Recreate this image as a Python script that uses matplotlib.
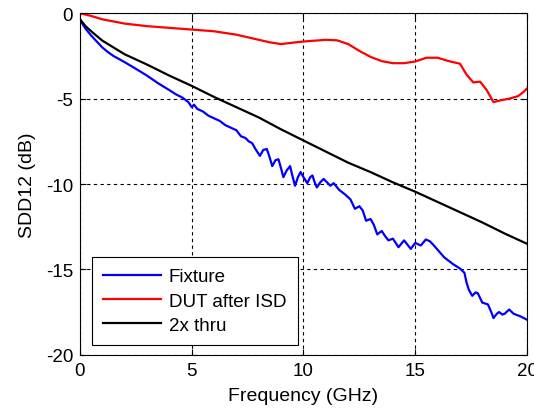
import numpy as np
import matplotlib
matplotlib.use('Agg')
import matplotlib.pyplot as plt
from matplotlib.ticker import MultipleLocator

plt.rcParams['font.family'] = ['Liberation Sans', 'DejaVu Sans']
plt.rcParams['axes.unicode_minus'] = False

# Fixture (blue)
fixtureF = [0, 0.25, 0.5, 0.75, 1.0, 1.25, 1.5, 2.0, 2.5, 2.75, 3.0, 3.5, 4.0, 4.3, 4.6,
            4.85, 5.0, 5.1, 5.25, 5.5, 5.75, 6.0, 6.25, 6.5, 6.75, 7.0, 7.2, 7.4, 7.55,
            7.7, 7.85, 8.05, 8.2, 8.36, 8.5, 8.6, 8.75, 8.88, 9.0, 9.1, 9.25, 9.4, 9.5,
            9.62, 9.75, 9.87, 10.0, 10.17, 10.3, 10.4, 10.5, 10.6, 10.75, 10.9, 11.05,
            11.2, 11.35, 11.6, 11.85, 12.1, 12.3, 12.5, 12.65, 12.8, 13.0, 13.15, 13.3,
            13.5, 13.65, 13.8, 14.0, 14.25, 14.5, 14.65, 14.8, 15.0, 15.25, 15.47, 15.65,
            15.8, 16.0, 16.3, 16.5, 16.7, 17.0, 17.2, 17.3, 17.4, 17.55, 17.7, 17.8, 18.0,
            18.25, 18.4, 18.5, 18.65, 18.75, 18.9, 19.0, 19.2, 19.4, 19.7, 20.0]
fixtureDB = [-0.4, -0.9, -1.3, -1.65, -2.0, -2.27, -2.5, -2.86, -3.25, -3.45, -3.65, -4.1,
             -4.5, -4.75, -4.95, -5.2, -5.5, -5.35, -5.6, -5.75, -6.0, -6.15, -6.3, -6.55,
             -6.7, -6.85, -7.2, -7.3, -7.5, -7.6, -7.95, -8.35, -8.0, -7.95, -8.5, -8.95,
             -8.6, -8.55, -9.1, -9.6, -9.2, -8.95, -9.5, -10.1, -9.6, -9.3, -9.6, -9.95,
             -9.6, -9.5, -9.9, -10.2, -9.9, -9.7, -9.9, -10.1, -9.95, -10.35, -10.6, -10.9,
             -11.45, -11.3, -11.55, -12.15, -12.05, -12.4, -12.95, -12.75, -13.05, -13.3,
             -13.2, -13.7, -13.3, -13.55, -13.8, -13.45, -13.6, -13.25, -13.35, -13.55,
             -13.85, -14.3, -14.5, -14.7, -14.95, -15.2, -15.8, -16.2, -16.55, -16.35, -16.4,
             -16.95, -17.05, -17.5, -17.85, -17.6, -17.5, -17.65, -17.6, -17.35, -17.6,
             -17.75, -17.95]

# DUT after ISD (red)
dutF = [0, 0.5, 1, 2, 3, 4, 5, 6, 7, 8, 8.5, 9, 9.5, 10, 10.5, 11, 11.5, 12, 12.5, 13,
        13.5, 14, 14.5, 15, 15.5, 16, 16.5, 17, 17.3, 17.6, 17.9, 18.2, 18.5, 18.8, 19.2,
        19.6, 19.85, 20]
dutDB = [0, -0.15, -0.35, -0.6, -0.75, -0.85, -0.95, -1.05, -1.25, -1.55, -1.7, -1.8,
         -1.72, -1.65, -1.6, -1.55, -1.58, -1.8, -2.2, -2.55, -2.8, -2.92, -2.92, -2.82,
         -2.6, -2.6, -2.8, -2.95, -3.6, -4.05, -4.0, -4.5, -5.2, -5.1, -5.0, -4.85, -4.6,
         -4.4]

# 2x thru (black)
thruF = [0, 0.25, 0.5, 1, 1.5, 2, 3, 4, 5, 6, 7, 8, 9, 10, 11, 12, 13, 14, 15, 16, 17,
         18, 19, 20]
thruDB = [-0.35, -0.75, -1.05, -1.6, -2.0, -2.4, -3.0, -3.65, -4.25, -4.9, -5.5, -6.1,
          -6.8, -7.45, -8.1, -8.75, -9.3, -9.9, -10.45, -11.05, -11.65, -12.25, -12.9,
          -13.5]

fig = plt.figure(figsize=(5.34, 4.10), dpi=100)
ax = fig.add_axes([0.1498, 0.1324, 0.8371, 0.8326])

ax.plot(fixtureF, fixtureDB, color='#0000ff', linewidth=1.6, label='Fixture')
ax.plot(dutF, dutDB, color='#ff0000', linewidth=1.6, label='DUT after ISD')
ax.plot(thruF, thruDB, color='black', linewidth=1.6, label='2x thru')

ax.set_xlim(0, 20)
ax.set_ylim(-20, 0)
ax.xaxis.set_major_locator(MultipleLocator(5))
ax.yaxis.set_major_locator(MultipleLocator(5))
ax.tick_params(direction='in', top=True, right=True, labelsize=13.5, length=4, pad=5)
ax.grid(True, color='black', linestyle=(0, (3, 3)), linewidth=0.8)
for s in ax.spines.values():
    s.set_linewidth(0.8)

ax.set_xlabel('Frequency (GHz)', fontsize=14, labelpad=6)
ax.set_ylabel('SDD12 (dB)', fontsize=14, labelpad=7)

leg = ax.legend(loc='lower left', bbox_to_anchor=(0.027, 0.028), borderaxespad=0,
                fontsize=13.5, handlelength=3.1, handletextpad=0.4, fancybox=False,
                framealpha=1, edgecolor='black', borderpad=0.6, labelspacing=0.38)
leg.get_frame().set_linewidth(0.8)

fig.savefig('out.png', dpi=100)
